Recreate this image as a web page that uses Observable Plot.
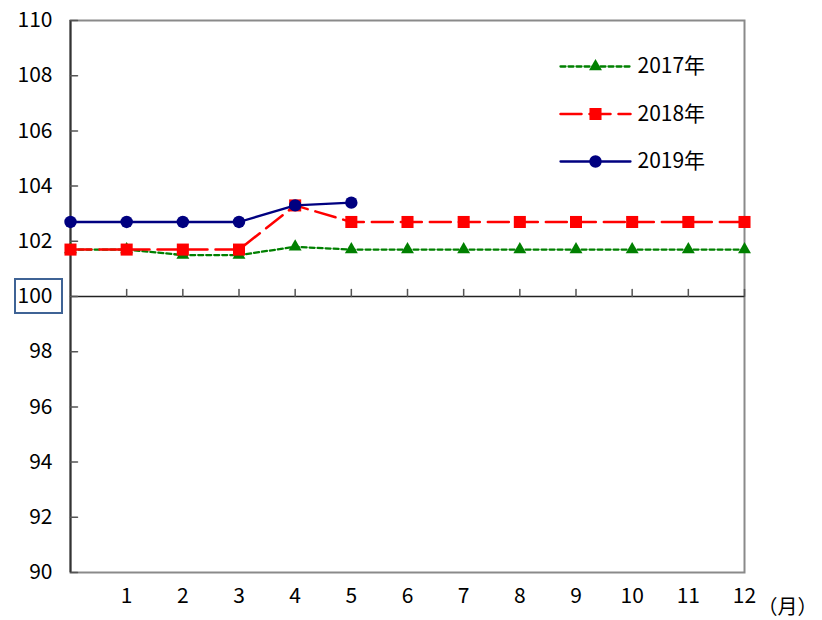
<!DOCTYPE html>
<html><head><meta charset="utf-8">
<script src="https://cdn.jsdelivr.net/npm/d3@7"></script>
<script src="https://cdn.jsdelivr.net/npm/@observablehq/plot@0.6"></script>
<style>body{margin:0;background:#fff;}</style>
</head><body><div id="chart"></div>
<script>
const months = [0,1,2,3,4,5,6,7,8,9,10,11,12];
const xTicks = [1,2,3,4,5,6,7,8,9,10,11,12];
const yTicks = [90,92,94,96,98,100,102,104,106,108,110];
const seriesNames = ["2017年","2018年","2019年"];
const values2017 = [101.7,101.7,101.5,101.5,101.8,101.7,101.7,101.7,101.7,101.7,101.7,101.7,101.7];
const values2018 = [101.7,101.7,101.7,101.7,103.3,102.7,102.7,102.7,102.7,102.7,102.7,102.7,102.7];
const values2019 = [102.7,102.7,102.7,102.7,103.3,103.4];
const baseline = 100;
const xUnitLabel = "（月）";

const font = "'Noto Sans CJK JP', 'Noto Sans', sans-serif";
const styles = [
  {color: "#008000", dash: "5,3", symbol: "triangle", r: 4.8, width: 2.3},
  {color: "#ff0000", dash: "21,8", symbol: "square", r: 6.8, width: 2.5},
  {color: "#000080", dash: null, symbol: "circle", r: 6.2, width: 2.3}
];
const allValues = [values2017, values2018, values2019];
const tables = allValues.map((vals, k) => vals.map((v, i) => ({month: months[i], value: v, series: seriesNames[k]})));

const lineShape = {draw(ctx, l) { ctx.moveTo(0, 0); ctx.lineTo(0, -l); }};
const marginLeft = 70, marginRight = 78, marginTop = 20, marginBottom = 48;

const marks = [
  Plot.frame({stroke: "#8a8a8a", strokeWidth: 2}),
  Plot.ruleX([months[0]], {stroke: "#333", strokeWidth: 2}),
  Plot.ruleY([baseline], {stroke: "#222", strokeWidth: 1.5}),
  Plot.vector(yTicks, {y: d => d, frameAnchor: "left", length: 7, rotate: 90, anchor: "start", shape: lineShape, stroke: "#555", strokeWidth: 1.5}),
  Plot.vector(xTicks, {x: d => d, y: () => baseline, length: 7, rotate: 0, anchor: "start", shape: lineShape, stroke: "#555", strokeWidth: 1.5}),
  Plot.axisY({ticks: yTicks, tickSize: 0, tickPadding: 18, fontSize: 21, label: null, fill: "#000"}),
  Plot.axisX({ticks: xTicks, tickSize: 0, tickPadding: 16, fontSize: 21, label: null, fill: "#000"}),
  Plot.text([xUnitLabel], {frameAnchor: "bottom-right", dx: 43, dy: 35, textAnchor: "middle", lineAnchor: "middle", fontSize: 20, fill: "#000"})
];
tables.forEach((t, k) => {
  const s = styles[k];
  marks.push(Plot.line(t, {x: "month", y: "value", stroke: s.color, strokeWidth: s.width, strokeDasharray: s.dash}));
  marks.push(Plot.dot(t, {x: "month", y: "value", symbol: s.symbol, r: s.r, fill: s.color, stroke: "none"}));
});
seriesNames.forEach((name, k) => {
  const s = styles[k];
  const dy = 46 + k * 47.5;
  marks.push(Plot.vector([name], {frameAnchor: "top-right", dx: -184, dy, length: 70, rotate: 90, anchor: "start", shape: lineShape, stroke: s.color, strokeWidth: s.width, strokeDasharray: s.dash}));
  marks.push(Plot.dot([name], {frameAnchor: "top-right", dx: -149, dy, symbol: s.symbol, r: s.r, fill: s.color, stroke: "none"}));
  marks.push(Plot.text([name], {frameAnchor: "top-right", dx: -107, dy, textAnchor: "start", lineAnchor: "middle", fontSize: 21, fill: "#000"}));
});

const plot = Plot.plot({
  width: 822, height: 620,
  marginLeft, marginRight, marginTop, marginBottom,
  style: {fontFamily: font, color: "#000", background: "#fff", overflow: "visible"},
  x: {domain: [months[0], months[months.length - 1]], axis: null},
  y: {domain: [yTicks[0], yTicks[yTicks.length - 1]], axis: null},
  marks
});
document.getElementById("chart").appendChild(plot);

// box around the 100 label
const cy = plot.scale("y").apply(baseline);
d3.select(plot).append("rect")
  .attr("x", marginLeft - 55).attr("y", cy - 17)
  .attr("width", 47).attr("height", 34)
  .attr("fill", "none").attr("stroke", "#3f6395").attr("stroke-width", 2);
</script>
</body></html>
